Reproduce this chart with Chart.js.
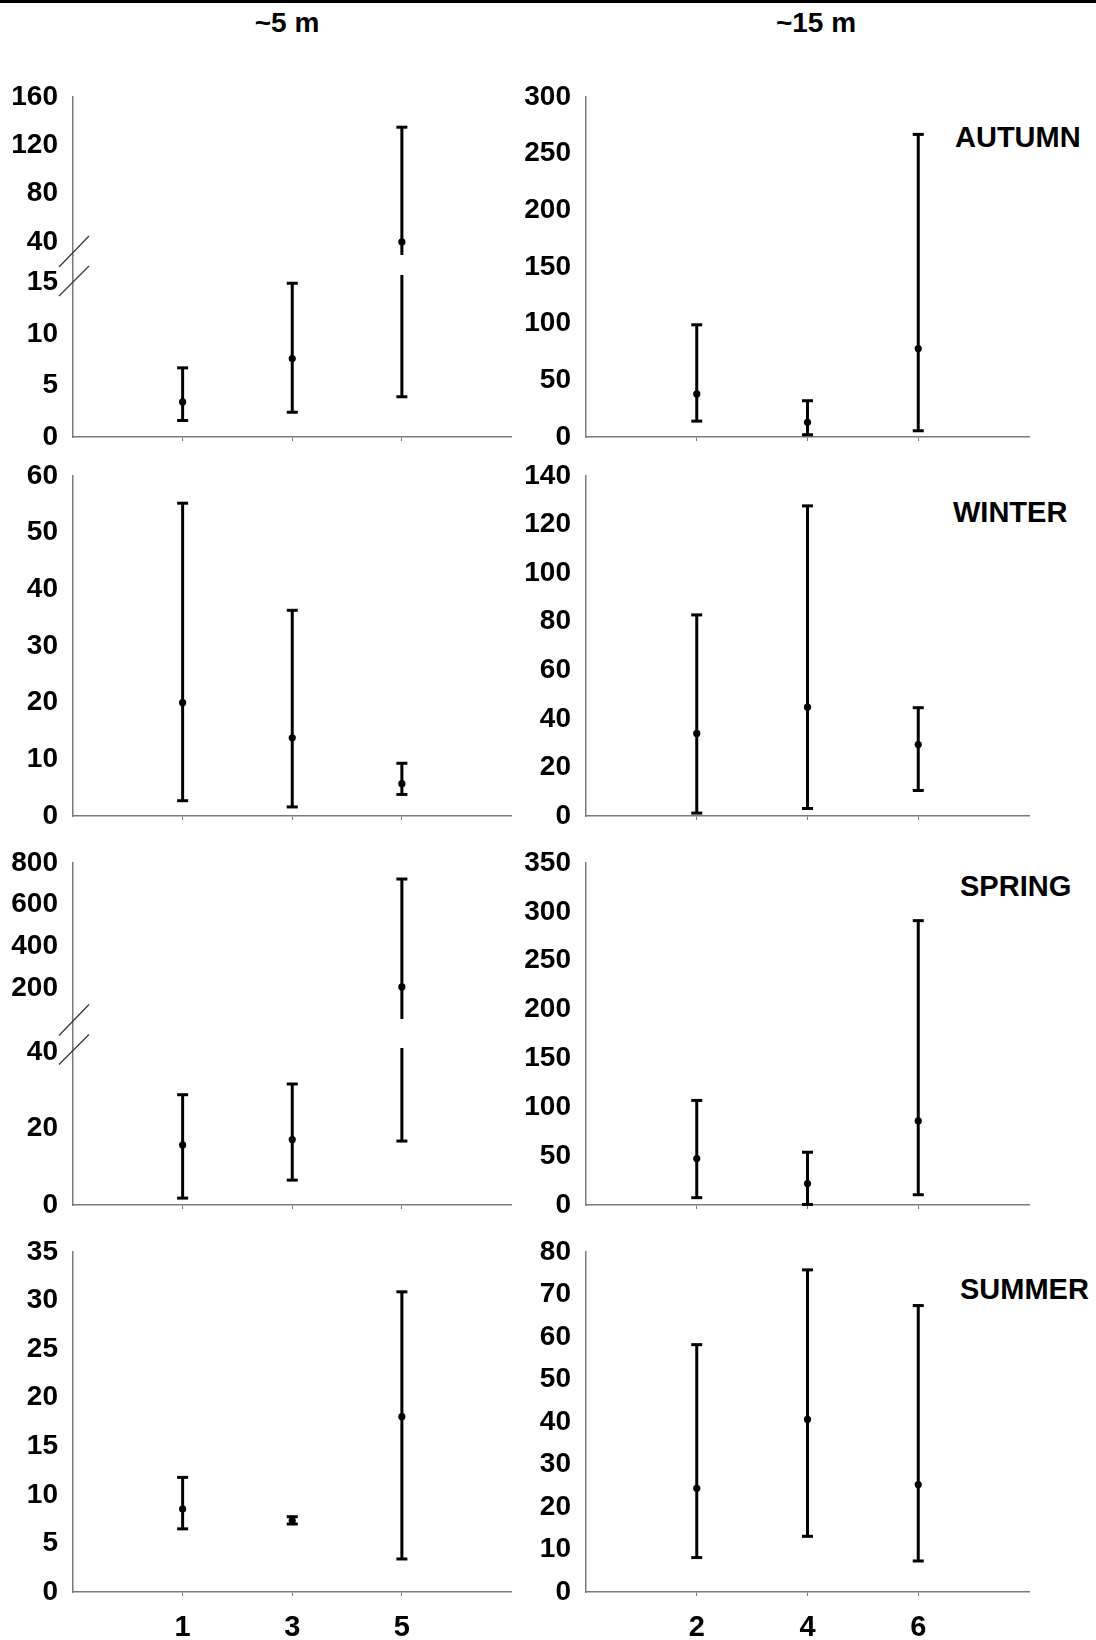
<!DOCTYPE html>
<html>
<head>
<meta charset="utf-8">
<script src="https://cdn.jsdelivr.net/npm/chart.js@4.4.1/dist/chart.umd.min.js"></script>
<style>
    html, body { margin: 0; padding: 0; background: #fff; overflow: hidden; }
    #page { position: relative; width: 1096px; height: 1640px; overflow: hidden; background: #fff;
            font-family: "Liberation Sans", Arial, sans-serif; font-weight: bold; color: #000; }
    #page canvas { position: absolute; }
    .topline { position: absolute; left: 0; top: 0; width: 1096px; height: 3px; background: #000; }
    .coltitle { position: absolute; width: 200px; text-align: center; font-size: 28px; line-height: 1; }
    .season { position: absolute; font-size: 29px; line-height: 1; white-space: nowrap; }
</style>
</head>
<body>
<div id="page">
    <div class="topline"></div>
    <div class="coltitle" style="left:187px; top:9px;">~5 m</div>
    <div class="coltitle" style="left:716px; top:9px;">~15 m</div>
    <div class="season" style="left:955px; top:123px;">AUTUMN</div>
    <div class="season" style="left:953px; top:498px;">WINTER</div>
    <div class="season" style="left:960px; top:872px;">SPRING</div>
    <div class="season" style="left:960px; top:1275px;">SUMMER</div>
</div>
<script>
// sites on the x axis
const shallowSites = ['1', '3', '5'];
const deepSites = ['2', '4', '6'];
const sitePos = [1, 2, 3];

// Autumn ~5 m (broken axis)
const autumn5Mean = [3.4, 7.6, 40];
const autumn5Low = [1.6, 2.4, 3.9];
const autumn5High = [6.7, 14.9, 135];
const autumn5TicksLow = [0, 5, 10, 15];
const autumn5TicksHigh = [40, 80, 120, 160];

// Autumn ~15 m
const autumn15Mean = [38, 13, 78];
const autumn15Low = [14, 2, 5.5];
const autumn15High = [99, 32, 267];
const autumn15Ticks = [0, 50, 100, 150, 200, 250, 300];

// Winter ~5 m
const winter5Mean = [20, 13.8, 5.7];
const winter5Low = [2.7, 1.6, 3.8];
const winter5High = [55.2, 36.3, 9.3];
const winter5Ticks = [0, 10, 20, 30, 40, 50, 60];

// Winter ~15 m
const winter15Mean = [34, 44.8, 29.4];
const winter15Low = [1.2, 3.1, 10.5];
const winter15High = [82.8, 127.7, 44.6];
const winter15Ticks = [0, 20, 40, 60, 80, 100, 120, 140];

// Spring ~5 m (broken axis)
const spring5Mean = [15.7, 17.1, 205];
const spring5Low = [1.8, 6.5, 16.7];
const spring5High = [28.8, 31.6, 723];
const spring5TicksLow = [0, 20, 40];
const spring5TicksHigh = [200, 400, 600, 800];

// Spring ~15 m
const spring15Mean = [47.5, 22, 86];
const spring15Low = [7.5, 0.5, 10.5];
const spring15High = [107, 54, 291];
const spring15Ticks = [0, 50, 100, 150, 200, 250, 300, 350];

// Summer ~5 m
const summer5Mean = [8.55, 7.35, 18.05];
const summer5Low = [6.5, 7.0, 3.4];
const summer5High = [11.8, 7.75, 30.9];
const summer5Ticks = [0, 5, 10, 15, 20, 25, 30, 35];

// Summer ~15 m
const summer15Mean = [24.4, 40.6, 25.3];
const summer15Low = [8.1, 13.1, 7.3];
const summer15High = [58.2, 75.8, 67.4];
const summer15Ticks = [0, 10, 20, 30, 40, 50, 60, 70, 80];

const page = document.getElementById('page');
const axisGrey = '#7a7a7a';
const fontFamily = '"Liberation Sans", Arial, sans-serif';

const cols = {
    left:  { canvasX: 0,   canvasW: 520, axisX: 73,  plotRight: 512,  sites: shallowSites },
    right: { canvasX: 520, canvasW: 576, axisX: 586, plotRight: 1029, sites: deepSites }
};
const rows = [
    { top: 97,  bottom: 437 },
    { top: 476, bottom: 816 },
    { top: 863, bottom: 1205 },
    { top: 1252, bottom: 1592 }
];

// grey axis continuation + the two slashes of a broken axis
const axisBreak = {
    id: 'axisBreak',
    afterDraw(chart, args, opts) {
        if (!opts.gap) return;
        const ctx = chart.ctx;
        const area = chart.chartArea;
        const x = Math.round(area.left - 0.75) + 0.75;
        const mid = area.top - opts.gap / 2;
        ctx.save();
        ctx.strokeStyle = axisGrey;
        ctx.lineWidth = 1.5;
        ctx.beginPath();
        ctx.moveTo(x, area.top - opts.gap);
        ctx.lineTo(x, area.top);
        ctx.stroke();
        ctx.strokeStyle = '#333';
        ctx.lineWidth = 1.2;
        ctx.beginPath();
        ctx.moveTo(area.left - 14, mid + 2);
        ctx.lineTo(area.left + 16, mid - 29);
        ctx.moveTo(area.left - 14, mid + 31);
        ctx.lineTo(area.left + 16, mid + 1);
        ctx.stroke();
        ctx.restore();
    }
};

function whiskerData(low, high) {
    const pts = [];
    sitePos.forEach((x, i) => {
        pts.push({ x: x, y: low[i] }, { x: x, y: high[i] }, { x: x, y: null });
    });
    return pts;
}

function drawPanel(col, top, bottom, cfg) {
    const padTop = 60;
    const xHeight = cfg.xAxis ? (cfg.xLabels ? 60 : 40) : 0;
    const padBottom = cfg.xAxis ? 0 : 40;
    const canvas = document.createElement('canvas');
    canvas.width = col.canvasW;
    canvas.height = padTop + (bottom - top) + xHeight + padBottom;
    canvas.style.left = col.canvasX + 'px';
    canvas.style.top = (top - padTop) + 'px';
    page.appendChild(canvas);

    const clip = cfg.clip === undefined ? false : cfg.clip;

    new Chart(canvas, {
        type: 'scatter',
        data: {
            datasets: [
                {
                    label: 'mean',
                    data: sitePos.map((x, i) => ({ x: x, y: cfg.mean[i] })),
                    pointStyle: 'circle',
                    pointRadius: 3.6,
                    pointBackgroundColor: '#000',
                    pointBorderWidth: 0,
                    clip: clip
                },
                {
                    label: 'caps',
                    data: sitePos.map((x, i) => ({ x: x, y: cfg.low[i] }))
                        .concat(sitePos.map((x, i) => ({ x: x, y: cfg.high[i] }))),
                    pointStyle: 'line',
                    pointRadius: 5.5,
                    pointBorderWidth: 3,
                    pointBorderColor: '#000',
                    clip: clip
                },
                {
                    label: 'range',
                    data: whiskerData(cfg.low, cfg.high),
                    showLine: true,
                    spanGaps: false,
                    borderColor: '#000',
                    borderWidth: 3,
                    pointRadius: 0,
                    clip: clip
                }
            ]
        },
        options: {
            responsive: false,
            animation: false,
            events: [],
            layout: {
                padding: { top: padTop, bottom: padBottom, left: 0, right: col.canvasX + col.canvasW - col.plotRight }
            },
            plugins: {
                legend: { display: false },
                tooltip: { enabled: false },
                axisBreak: { gap: cfg.breakGap || 0 }
            },
            scales: {
                x: {
                    type: 'linear',
                    min: 0,
                    max: 4,
                    display: cfg.xAxis,
                    afterBuildTicks: (s) => { s.ticks = sitePos.map(v => ({ value: v })); },
                    afterFit: (s) => { s.height = xHeight; },
                    grid: { drawOnChartArea: false, drawTicks: true, tickLength: 4, color: axisGrey, lineWidth: 1 },
                    border: { display: true, color: axisGrey, width: 1.5 },
                    ticks: {
                        display: !!cfg.xLabels,
                        padding: 15,
                        autoSkip: false,
                        maxRotation: 0,
                        color: '#000',
                        font: { family: fontFamily, size: 29, weight: 'bold' },
                        callback: (value, index) => col.sites[index]
                    }
                },
                y: {
                    type: 'linear',
                    min: cfg.min,
                    max: cfg.max,
                    afterBuildTicks: (s) => { s.ticks = cfg.ticks.map(v => ({ value: v })); },
                    afterFit: (s) => { s.width = col.axisX - col.canvasX; },
                    grid: { display: false, drawTicks: false },
                    border: { display: true, color: axisGrey, width: 1.5 },
                    ticks: {
                        padding: 15,
                        autoSkip: false,
                        color: '#000',
                        font: { family: fontFamily, size: 28, weight: 'bold' },
                        callback: (value) => String(value)
                    }
                }
            }
        },
        plugins: [axisBreak]
    });
}

// broken-axis panel: upper part (no x axis) + lower part
function drawBrokenPanel(col, row, cfg) {
    drawPanel(col, row.top, cfg.upperBottom, {
        mean: cfg.mean, low: cfg.low, high: cfg.high,
        min: cfg.upperMin, max: cfg.upperMax, ticks: cfg.upperTicks,
        xAxis: false,
        clip: { left: false, right: false, top: false, bottom: 0 }
    });
    drawPanel(col, cfg.lowerTop, row.bottom, {
        mean: cfg.mean, low: cfg.low, high: cfg.high,
        min: 0, max: cfg.lowerMax, ticks: cfg.lowerTicks,
        xAxis: true, xLabels: cfg.xLabels,
        breakGap: cfg.lowerTop - cfg.upperBottom,
        clip: { left: false, right: false, top: 0, bottom: false }
    });
}

// Autumn
drawBrokenPanel(cols.left, rows[0], {
    mean: autumn5Mean, low: autumn5Low, high: autumn5High,
    upperMin: 29.2, upperMax: 160, upperTicks: autumn5TicksHigh, upperBottom: 255,
    lowerMax: 15.7, lowerTicks: autumn5TicksLow, lowerTop: 275
});
drawPanel(cols.right, rows[0].top, rows[0].bottom, {
    mean: autumn15Mean, low: autumn15Low, high: autumn15High,
    min: 0, max: 300, ticks: autumn15Ticks, xAxis: true
});

// Winter
drawPanel(cols.left, rows[1].top, rows[1].bottom, {
    mean: winter5Mean, low: winter5Low, high: winter5High,
    min: 0, max: 60, ticks: winter5Ticks, xAxis: true
});
drawPanel(cols.right, rows[1].top, rows[1].bottom, {
    mean: winter15Mean, low: winter15Low, high: winter15High,
    min: 0, max: 140, ticks: winter15Ticks, xAxis: true
});

// Spring
drawBrokenPanel(cols.left, rows[2], {
    mean: spring5Mean, low: spring5Low, high: spring5High,
    upperMin: 51, upperMax: 800, upperTicks: spring5TicksHigh, upperBottom: 1019,
    lowerMax: 41, lowerTicks: spring5TicksLow, lowerTop: 1048
});
drawPanel(cols.right, rows[2].top, rows[2].bottom, {
    mean: spring15Mean, low: spring15Low, high: spring15High,
    min: 0, max: 350, ticks: spring15Ticks, xAxis: true
});

// Summer (bottom row carries the site labels)
drawPanel(cols.left, rows[3].top, rows[3].bottom, {
    mean: summer5Mean, low: summer5Low, high: summer5High,
    min: 0, max: 35, ticks: summer5Ticks, xAxis: true, xLabels: true
});
drawPanel(cols.right, rows[3].top, rows[3].bottom, {
    mean: summer15Mean, low: summer15Low, high: summer15High,
    min: 0, max: 80, ticks: summer15Ticks, xAxis: true, xLabels: true
});
</script>
</body>
</html>
